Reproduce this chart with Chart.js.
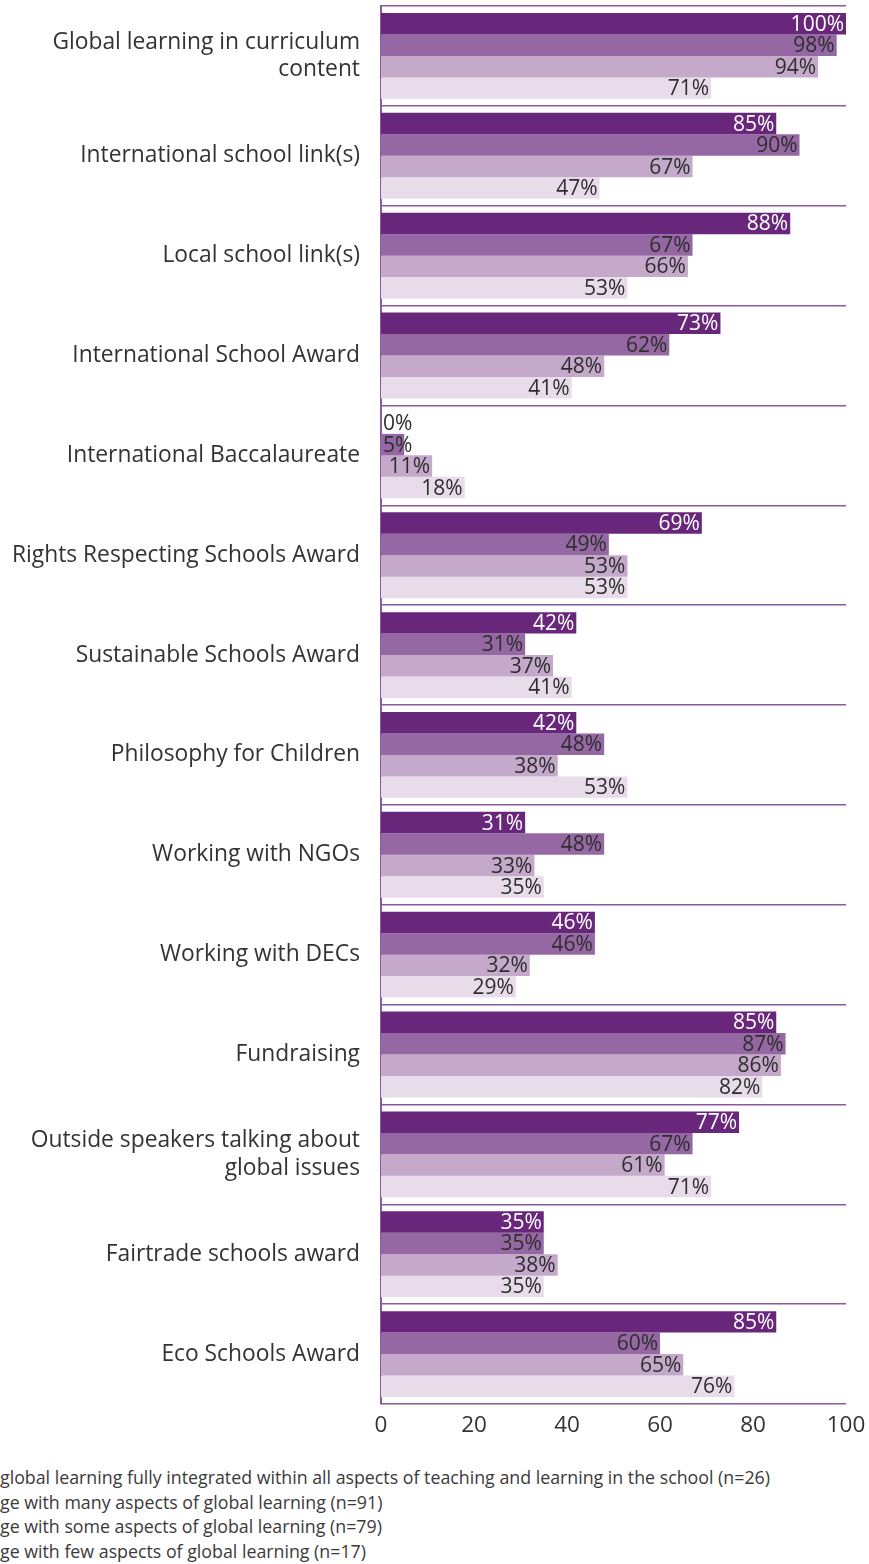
<!DOCTYPE html>
<html>
<head>
<meta charset="utf-8">
<script src="https://cdn.jsdelivr.net/npm/chart.js@4/dist/chart.umd.min.js"></script>
<style>
  body { margin: 0; background: #fff; font-family: "Open Sans", sans-serif; }
  #wrap { position: relative; width: 869px; height: 1564px; overflow: hidden; }
  #box { position: absolute; left: 0; top: 0; width: 869px; height: 1444px; }
  #legende { position: absolute; left: 0; top: 1465px; font-size: 17.8px; line-height: 24.5px; color: #3a3a3a; white-space: nowrap; }
</style>
</head>
<body>
<div id="wrap">
  <div id="box"><canvas id="g_activites"></canvas></div>
  <div id="legende"></div>
</div>
<script>
// categories (labels sur deux lignes quand il faut)
const categories = [
  ["Global learning in curriculum", "content"],
  "International school link(s)",
  "Local school link(s)",
  "International School Award",
  "International Baccalaureate",
  "Rights Respecting Schools Award",
  "Sustainable Schools Award",
  "Philosophy for Children",
  "Working with NGOs",
  "Working with DECs",
  "Fundraising",
  ["Outside speakers talking about", "global issues"],
  "Fairtrade schools award",
  "Eco Schools Award"
];
// series
const serieLabels = [
  "global learning fully integrated within all aspects of teaching and learning in the school (n=26)",
  "ge with many aspects of global learning (n=91)",
  "ge with some aspects of global learning (n=79)",
  "ge with few aspects of global learning (n=17)"
];
const integres = [100, 85, 88, 73, 0, 69, 42, 42, 31, 46, 85, 77, 35, 85];
const nombreux = [98, 90, 67, 62, 5, 49, 31, 48, 48, 46, 87, 67, 35, 60];
const quelques = [94, 67, 66, 48, 11, 53, 37, 38, 33, 32, 86, 61, 38, 65];
const peu = [71, 47, 53, 41, 18, 53, 41, 53, 35, 29, 82, 71, 35, 76];
const xTicks = [0, 20, 40, 60, 80, 100];

const couleurs = ['#68277b', '#9568a4', '#c4a9ca', '#e8dcea'];
const couleursTexte = ['#ffffff', '#2e2e2e', '#2e2e2e', '#2e2e2e'];
const violet = '#8a5a9c';

// plugin pour écrire les pourcentages au bout des barres
const etiquettes = {
  id: 'etiquettes',
  afterDatasetsDraw(chart) {
    const ctx = chart.ctx;
    const gauche = chart.chartArea.left;
    ctx.save();
    ctx.font = '21px "Open Sans", sans-serif';
    ctx.textBaseline = 'middle';
    ctx.textAlign = 'right';
    chart.data.datasets.forEach((ds, i) => {
      const meta = chart.getDatasetMeta(i);
      meta.data.forEach((bar, j) => {
        const txt = ds.data[j] + '%';
        const w = ctx.measureText(txt).width;
        let x = bar.x - 2;
        let couleur = couleursTexte[i];
        if (x - w < gauche + 2) {
          x = gauche + 2 + w;
          couleur = '#2e2e2e';
        }
        ctx.fillStyle = couleur;
        ctx.fillText(txt, x, bar.y + 1);
      });
    });
    ctx.restore();
  }
};

const series = [integres, nombreux, quelques, peu];
const datasets = series.map((s, i) => ({
  label: serieLabels[i],
  data: s,
  backgroundColor: couleurs[i],
  borderWidth: 0,
  barPercentage: 1,
  categoryPercentage: 0.86
}));

let context = document.getElementById('g_activites').getContext('2d');
let gActivites = new Chart(context, {
  type: 'bar',
  data: { labels: categories, datasets: datasets },
  options: {
    indexAxis: 'y',
    responsive: true,
    maintainAspectRatio: false,
    animation: false,
    layout: { padding: { top: 6, right: 23, bottom: 0, left: 0 } },
    plugins: {
      legend: { display: false },
      tooltip: { enabled: false }
    },
    scales: {
      x: {
        min: 0,
        max: 100,
        afterBuildTicks: s => { s.ticks = xTicks.map(v => ({ value: v })); },
        afterFit: s => { s.height = 40; s.paddingLeft = 0; s.paddingRight = 0; },
        grid: { display: false, drawTicks: false },
        border: { display: false },
        ticks: { padding: 8, color: '#333', font: { family: '"Open Sans", sans-serif', size: 22.5 } }
      },
      y: {
        afterFit: s => { s.width = 381; s.paddingTop = 0; s.paddingBottom = 0; },
        grid: { color: violet, lineWidth: 1.5, drawTicks: false, offset: true },
        border: { display: true, color: violet, width: 2 },
        ticks: { padding: 21, color: '#333', font: { family: '"Open Sans", sans-serif', size: 22.8, lineHeight: 1.2 } }
      }
    }
  },
  plugins: [etiquettes]
});

// légende en HTML sous le graphe
document.getElementById('legende').innerHTML =
  serieLabels.map(l => '<div>' + l + '</div>').join('');
</script>
</body>
</html>
